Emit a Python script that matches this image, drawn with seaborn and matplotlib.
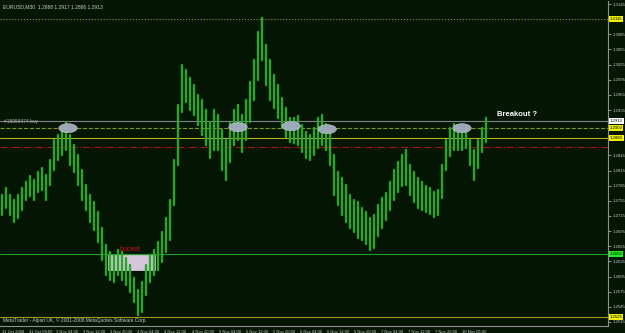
import numpy as np
import pandas as pd
import matplotlib
matplotlib.use("Agg")
import matplotlib.pyplot as plt
import seaborn as sns
from matplotlib.patches import Ellipse, Rectangle

# ---- data (EURUSD M30, price high/low per column) ----
highs = [1.2767, 1.2781, 1.2767, 1.2757, 1.2767, 1.2781, 1.2793, 1.2804, 1.2796, 1.2812,
         1.2820, 1.2806, 1.2836, 1.2876, 1.2886, 1.2896, 1.2911, 1.2886, 1.2866, 1.2846,
         1.2816, 1.2787, 1.2767, 1.2753, 1.2733, 1.2701, 1.2668, 1.2654, 1.2648, 1.2658,
         1.2654, 1.2642, 1.2628, 1.2603, 1.2579, 1.2595, 1.2628, 1.2648, 1.2658, 1.2674,
         1.2694, 1.2721, 1.2757, 1.2836, 1.2945, 1.3024, 1.3014, 1.2998, 1.2985, 1.2965,
         1.2955, 1.2935, 1.2911, 1.2935, 1.2925, 1.2896, 1.2876, 1.2911, 1.2935, 1.2945,
         1.2925, 1.2955, 1.2991, 1.3034, 1.3090, 1.3117, 1.3064, 1.3034, 1.3004, 1.2985,
         1.2959, 1.2939, 1.2919, 1.2919, 1.2923, 1.2905, 1.2892, 1.2886, 1.2899, 1.2919,
         1.2925, 1.2907, 1.2896, 1.2846, 1.2812, 1.2800, 1.2787, 1.2767, 1.2757, 1.2753,
         1.2741, 1.2733, 1.2721, 1.2727, 1.2747, 1.2761, 1.2771, 1.2793, 1.2816, 1.2832,
         1.2846, 1.2856, 1.2826, 1.2812, 1.2800, 1.2793, 1.2785, 1.2781, 1.2773, 1.2777,
         1.2826, 1.2876, 1.2899, 1.2907, 1.2903, 1.2896, 1.2903, 1.2876, 1.2856, 1.2876,
         1.2899, 1.2919]
lows = [1.2727, 1.2741, 1.2727, 1.2713, 1.2721, 1.2737, 1.2757, 1.2765, 1.2757, 1.2773,
        1.2777, 1.2757, 1.2787, 1.2816, 1.2836, 1.2846, 1.2856, 1.2826, 1.2812, 1.2787,
        1.2757, 1.2737, 1.2713, 1.2698, 1.2674, 1.2638, 1.2608, 1.2599, 1.2595, 1.2608,
        1.2599, 1.2589, 1.2575, 1.2555, 1.2529, 1.2535, 1.2569, 1.2595, 1.2608, 1.2618,
        1.2634, 1.2654, 1.2678, 1.2747, 1.2826, 1.2931, 1.2951, 1.2935, 1.2925, 1.2905,
        1.2886, 1.2866, 1.2840, 1.2856, 1.2856, 1.2816, 1.2796, 1.2832, 1.2866, 1.2876,
        1.2852, 1.2876, 1.2911, 1.2955, 1.2995, 1.3034, 1.2985, 1.2955, 1.2939, 1.2919,
        1.2899, 1.2882, 1.2872, 1.2870, 1.2866, 1.2852, 1.2840, 1.2836, 1.2846, 1.2860,
        1.2866, 1.2856, 1.2826, 1.2767, 1.2747, 1.2727, 1.2713, 1.2701, 1.2694, 1.2682,
        1.2678, 1.2670, 1.2658, 1.2662, 1.2686, 1.2701, 1.2717, 1.2737, 1.2757, 1.2773,
        1.2785, 1.2787, 1.2767, 1.2753, 1.2741, 1.2737, 1.2733, 1.2729, 1.2723, 1.2727,
        1.2761, 1.2816, 1.2844, 1.2856, 1.2856, 1.2856, 1.2860, 1.2826, 1.2796, 1.2820,
        1.2852, 1.2872]

time_labels = ["31 Oct 2008", "31 Oct 08:00", "3 Nov 04:00", "3 Nov 12:00", "3 Nov 20:00",
               "4 Nov 04:00", "4 Nov 12:00", "4 Nov 20:00", "5 Nov 04:00", "5 Nov 12:00",
               "5 Nov 20:00", "6 Nov 04:00", "6 Nov 12:00", "6 Nov 20:00", "7 Nov 04:00",
               "7 Nov 12:00", "7 Nov 20:00", "10 Nov 05:00"]
# price scale labels (those hidden behind the level boxes are left out)
price_ticks = [1.3145, 1.3085, 1.3055, 1.3025, 1.2995, 1.2965, 1.2935,
               1.2845, 1.2815, 1.2785, 1.2755, 1.2725, 1.2695, 1.2665, 1.2635,
               1.2605, 1.2575, 1.2545, 1.2515]

# horizontal levels: value, line colour, label box colour (None = no box)
level_values = [1.3115, 1.2913, 1.2900, 1.2880, 1.2862, 1.2650, 1.2525]
level_colors = ["#8c8c30", "#80808c", "#7f9a2a", "#b4b41e", "#a01818", "#1ea01e", "#9a9a1e"]
level_styles = [":", "-", "--", "-", "-.", "-", "-"]
level_boxes = ["#f0f000", "#ffffff", "#f0f000", "#f0f000", None, "#20f020", "#f0f000"]

oval_bars = [16.5, 59.0, 72.3, 81.3, 115.0]
oval_prices = [1.2899, 1.2901, 1.2903, 1.2897, 1.2899]

title_text = "EURUSD,M30  1.2888 1.2917 1.2886 1.2913"
copyright_text = "MetaTrader - Alpari UK, \u00a9 2001-2008 MetaQuotes Software Corp."

# ---- figure ----
BG = "#051605"
FG = "#c8c8c8"
sns.set_theme(style="dark", rc={"axes.facecolor": BG, "figure.facecolor": BG})
plt.rcParams["font.family"] = ["Liberation Sans", "DejaVu Sans"]

fig = plt.figure(figsize=(6.25, 3.33), dpi=100)
ax = fig.add_axes([0.0, 7 / 333, 608 / 625, 325 / 333])
ax.set_facecolor(BG)

n = len(highs)
bars = np.arange(n)
df = pd.DataFrame({
    "bar": np.concatenate([bars, bars]),
    "price": np.concatenate([lows, highs]),
})
sns.lineplot(data=df, x="bar", y="price", units="bar", estimator=None,
             color="#2aa62a", lw=1.7, ax=ax, zorder=3, legend=False)

ax.set_xlim(-0.5, 151.5)
ax.set_ylim(1.2507, 1.3151)

# levels
for v, c, s in zip(level_values, level_colors, level_styles):
    ax.axhline(v, color=c, ls=s, lw=0.8, zorder=2)

# bucket box
ax.add_patch(Rectangle((26.5, 1.2618), 11.75, 0.0030, facecolor="#d6c6dc",
                       edgecolor="#e8dcec", lw=0.5, zorder=2.5))
ax.text(29.5, 1.2656, "bucket", color="#d01010", fontsize=5, zorder=5)

# ovals
for xb, yp in zip(oval_bars, oval_prices):
    ax.add_patch(Ellipse((xb, yp), 4.6, 0.0018, facecolor="#a4aec0",
                         edgecolor="#c4ccd8", lw=0.4, alpha=0.95, zorder=4))

ax.text(123.8, 1.2919, "Breakout ?", color="white", fontsize=5.5,
        fontweight="bold", va="bottom", zorder=5)
ax.text(0.5, 1.2907, "#15958474 buy", color="#b0b0b0", fontsize=3.5,
        va="bottom", zorder=5)
ax.text(0.2, 1.3140, title_text, color=FG, fontsize=3.6, va="center", zorder=5)
ax.text(0.2, 1.2519, copyright_text, color=FG, fontsize=3.5, va="center", zorder=5)

# axes style
ax.yaxis.tick_right()
ax.set_yticks(price_ticks)
ax.set_yticklabels([f"{t:.4f}" for t in price_ticks])
ax.set_xticks(np.arange(len(time_labels)) * 6.77)
ax.set_xticklabels(time_labels)
for lab in ax.get_xticklabels():
    lab.set_ha("left")
ax.tick_params(axis="y", colors=FG, labelsize=3.1, length=2, width=0.5, pad=1)
ax.tick_params(axis="x", colors=FG, labelsize=3.0, length=2, width=0.5, pad=1)
ax.set_xlabel("")
ax.set_ylabel("")
ax.grid(False)
for side in ["top", "left"]:
    ax.spines[side].set_visible(False)
for side in ["right", "bottom"]:
    ax.spines[side].set_visible(True)
    ax.spines[side].set_color("#909090")
    ax.spines[side].set_linewidth(0.8)

# price labels on the right axis
for v, b in zip(level_values, level_boxes):
    if b is None:
        continue
    ax.text(1.003, v, f"{v:.4f}", transform=ax.get_yaxis_transform(),
            color="black", fontsize=3.1, va="center", ha="left", zorder=6,
            clip_on=False,
            bbox=dict(boxstyle="square,pad=0.2", facecolor=b, edgecolor="none"))

fig.savefig("out.png", dpi=100, facecolor=BG)
